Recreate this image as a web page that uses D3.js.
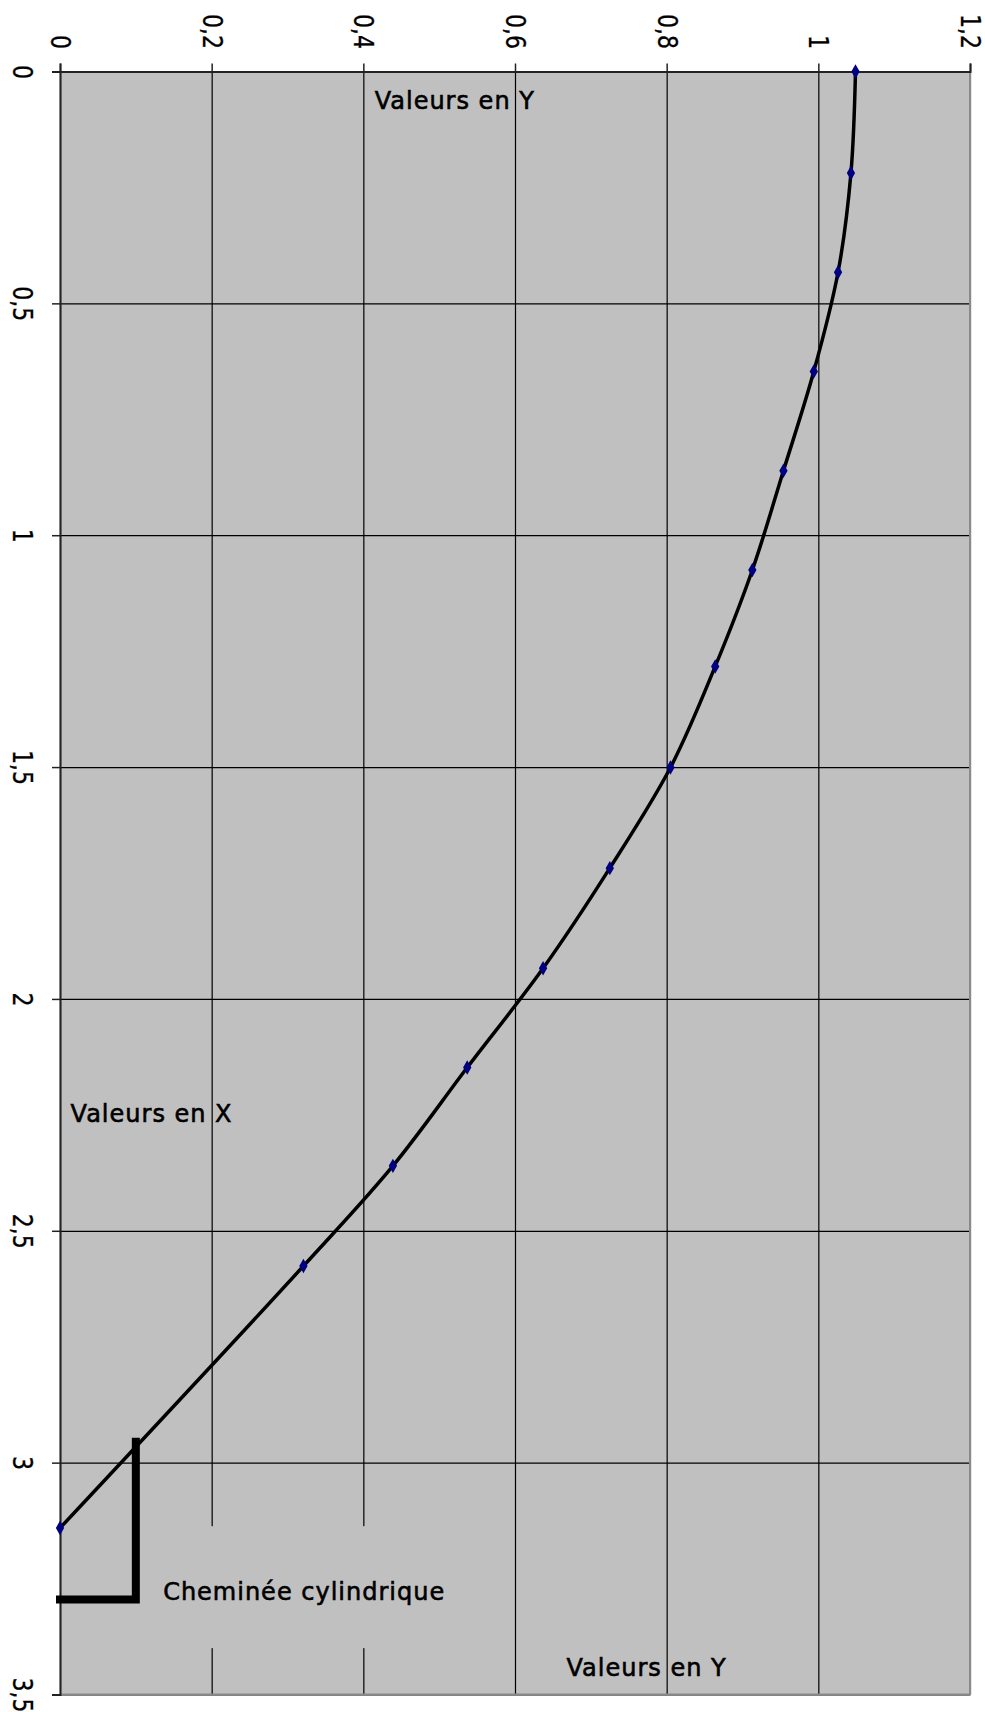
<!DOCTYPE html>
<html>
<head>
<meta charset="utf-8">
<script src="https://cdn.jsdelivr.net/npm/d3@7"></script>
<style>
  body { margin: 0; background: #fff; }
  text { font-family: "DejaVu Sans", sans-serif; fill: #000; }
</style>
</head>
<body>
<div id="chart"></div>
<script>
// courbe (x = valeurs en X, y = valeurs en Y, axe Y vers le bas)
const curveX = [1.049, 1.043, 1.026, 0.994, 0.954, 0.913, 0.864, 0.805, 0.725, 0.637, 0.537, 0.439, 0.321, 0]
const curveY = [0, 0.219, 0.433, 0.647, 0.861, 1.075, 1.283, 1.501, 1.718, 1.934, 2.148, 2.360, 2.576, 3.141]

// cheminée cylindrique
const chimneyX = [0, 0.1, 0.1]
const chimneyY = [3.295, 3.295, 2.955]

const xTicks = [0, 0.2, 0.4, 0.6, 0.8, 1, 1.2]
const xTickLabels = ["0", "0,2", "0,4", "0,6", "0,8", "1", "1,2"]
const yTicks = [0, 0.5, 1, 1.5, 2, 2.5, 3, 3.5]
const yTickLabels = ["0", "0,5", "1", "1,5", "2", "2,5", "3", "3,5"]

const labels = [
  {text: "Valeurs en Y", x: 0.415, y: 0.08},
  {text: "Valeurs en X", x: 0.014, y: 2.265},
  {text: "Cheminée cylindrique", x: 0.136, y: 3.297},
  {text: "Valeurs en Y", x: 0.668, y: 3.46}
]

const width = 985, height = 1712
const margin = {top: 71.5, right: 15, bottom: 17.5, left: 60}

const svg = d3.select("#chart").append("svg")
  .attr("width", width)
  .attr("height", height)

const x = d3.scaleLinear()
  .domain([0, 1.2])
  .range([margin.left, width - margin.right])
const y = d3.scaleLinear()
  .domain([0, 3.5])
  .range([margin.top, height - margin.bottom])

// fond gris
svg.append("rect")
  .attr("x", x(0)).attr("y", y(0))
  .attr("width", x(1.2) - x(0)).attr("height", y(3.5) - y(0))
  .attr("fill", "#c0c0c0")

// quadrillage
svg.append("g")
  .attr("transform", `translate(0,${y(0)})`)
  .call(d3.axisTop(x).tickValues(xTicks).tickSize(-(y(3.5) - y(0))).tickFormat(""))
  .call(g => g.select(".domain").remove())
  .call(g => g.selectAll("line").attr("stroke", "#000").attr("stroke-width", 1.2))
svg.append("g")
  .attr("transform", `translate(${x(0)},0)`)
  .call(d3.axisLeft(y).tickValues(yTicks).tickSize(-(x(1.2) - x(0))).tickFormat(""))
  .call(g => g.select(".domain").remove())
  .call(g => g.selectAll("line").attr("stroke", "#000").attr("stroke-width", 1.2))

// cadre bas / droite
svg.append("path")
  .attr("d", `M${x(1.2)},${y(0)}V${y(3.5)}H${x(0)}`)
  .attr("fill", "none")
  .attr("stroke", "#8a8a8a")
  .attr("stroke-width", 2)

// boîte du libellé cheminée (cache le quadrillage)
svg.append("rect")
  .attr("x", x(0.12)).attr("y", y(3.137))
  .attr("width", x(0.52) - x(0.12)).attr("height", y(3.4) - y(3.137))
  .attr("fill", "#c0c0c0")

// axes
svg.append("g")
  .attr("transform", `translate(0,${y(0)})`)
  .call(d3.axisTop(x).tickValues(xTicks).tickSize(8).tickFormat((d, i) => xTickLabels[i]))
  .call(g => g.select(".domain").attr("stroke", "#222").attr("stroke-width", 2))
  .call(g => g.selectAll("line").attr("stroke", "#222").attr("stroke-width", 1.5))
  .call(g => g.selectAll("text")
    .attr("y", null).attr("dy", null)
    .attr("font-size", 26)
    .attr("stroke", "#000").attr("stroke-width", 0.3)
    .attr("text-anchor", "end")
    .attr("transform", "translate(-9.5,-22.5) rotate(90) scale(0.85,1)"))

svg.append("g")
  .attr("transform", `translate(${x(0)},0)`)
  .call(d3.axisLeft(y).tickValues(yTicks).tickSize(8).tickFormat((d, i) => yTickLabels[i]))
  .call(g => g.select(".domain").attr("stroke", "#222").attr("stroke-width", 2))
  .call(g => g.selectAll("line").attr("stroke", "#222").attr("stroke-width", 1.5))
  .call(g => g.selectAll("text")
    .attr("x", null).attr("dy", null)
    .attr("font-size", 26)
    .attr("stroke", "#000").attr("stroke-width", 0.3)
    .attr("text-anchor", "middle")
    .attr("transform", `translate(${13 - margin.left},0) rotate(90) scale(0.85,1)`))

// cheminée
const chimney = chimneyX.map((v, i) => ({x: v, y: chimneyY[i]}))
svg.append("path")
  .datum(chimney)
  .attr("fill", "none")
  .attr("stroke", "#000")
  .attr("stroke-width", 8)
  .attr("stroke-linejoin", "miter")
  .attr("stroke-linecap", "square")
  .attr("d", d3.line().x(d => x(d.x)).y(d => y(d.y)))

// courbe
const points = curveX.map((v, i) => ({x: v, y: curveY[i]}))
svg.append("path")
  .datum(points)
  .attr("fill", "none")
  .attr("stroke", "#000")
  .attr("stroke-width", 3.5)
  .attr("d", d3.line().curve(d3.curveCatmullRom.alpha(0.5)).x(d => x(d.x)).y(d => y(d.y)))

svg.append("g")
  .selectAll("path")
  .data(points)
  .enter().append("path")
  .attr("transform", d => `translate(${x(d.x)},${y(d.y)})`)
  .attr("d", d3.symbol(d3.symbolDiamond, 60))
  .attr("fill", "#000080")

// libellés
svg.append("g")
  .selectAll("text")
  .data(labels)
  .enter().append("text")
  .attr("x", d => x(d.x))
  .attr("y", d => y(d.y))
  .attr("font-size", 24)
  .attr("letter-spacing", 1)
  .attr("stroke", "#000")
  .attr("stroke-width", 0.6)
  .text(d => d.text)
</script>
</body>
</html>
